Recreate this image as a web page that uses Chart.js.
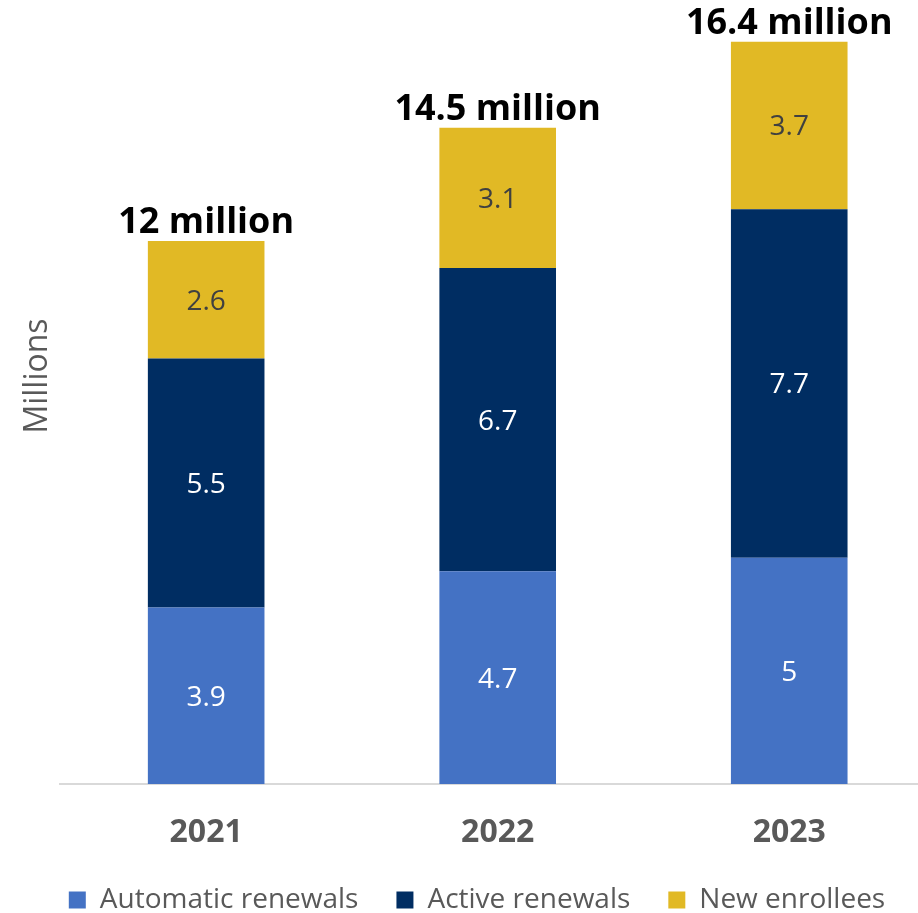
<!DOCTYPE html>
<html>
<head>
<meta charset="utf-8">
<script src="https://cdn.jsdelivr.net/npm/chart.js@4.4.0/dist/chart.umd.min.js"></script>
<style>
  html, body { margin: 0; padding: 0; background: #fff; overflow: hidden; }
  #wrap { width: 950px; height: 945px; margin-top: -32px; }
</style>
</head>
<body>
<div id="wrap"><canvas id="chart"></canvas></div>
<script>
// Данные
const years = ['2021', '2022', '2023'];
const automaticRenewals = [3.9, 4.7, 5];
const activeRenewals = [5.5, 6.7, 7.7];
const newEnrollees = [2.6, 3.1, 3.7];
const seriesNames = ['Automatic renewals', 'Active renewals', 'New enrollees'];

const FONT = "'Open Sans', 'Noto Sans', sans-serif";
const colors = ['#4472C4', '#002D62', '#E1B925'];
const labelColors = ['#ffffff', '#ffffff', '#404040'];

// Подписи значений и итогов
const labelsPlugin = {
  id: 'barLabels',
  afterDatasetsDraw(chart) {
    const ctx = chart.ctx;
    ctx.save();
    ctx.textAlign = 'center';
    ctx.textBaseline = 'middle';
    ctx.font = '28px ' + FONT;
    chart.data.datasets.forEach((ds, di) => {
      const meta = chart.getDatasetMeta(di);
      meta.data.forEach((bar, i) => {
        ctx.fillStyle = labelColors[di];
        ctx.fillText(String(ds.data[i]), bar.x, (bar.y + bar.base) / 2 + 2);
      });
    });
    // итоги над столбцами
    const last = chart.getDatasetMeta(chart.data.datasets.length - 1);
    ctx.font = 'bold 36px ' + FONT;
    ctx.fillStyle = '#000000';
    ctx.textBaseline = 'bottom';
    last.data.forEach((bar, i) => {
      let total = 0;
      chart.data.datasets.forEach(ds => total += ds.data[i]);
      total = Math.round(total * 10) / 10;
      ctx.fillText(total + ' million', bar.x, bar.y);
    });
    ctx.restore();
  }
};

let context = document.getElementById('chart').getContext('2d');
let chart = new Chart(context, {
  type: 'bar',
  data: {
    labels: years,
    datasets: [
      { label: seriesNames[0], data: automaticRenewals, backgroundColor: colors[0] },
      { label: seriesNames[1], data: activeRenewals, backgroundColor: colors[1] },
      { label: seriesNames[2], data: newEnrollees, backgroundColor: colors[2] }
    ]
  },
  options: {
    responsive: true,
    maintainAspectRatio: false,
    animation: false,
    barPercentage: 0.4,
    categoryPercentage: 1,
    layout: { padding: { left: 19, right: 15, top: 0, bottom: 0 } },
    scales: {
      x: {
        stacked: true,
        grid: { display: false, drawTicks: false },
        border: { display: true, color: '#D9D9D9', width: 2 },
        ticks: {
          color: '#595959',
          padding: 30,
          font: { family: FONT, size: 32, weight: 'bold' }
        },
        afterFit: (axis) => { axis.height = 64; }
      },
      y: {
        stacked: true,
        min: 0,
        max: 18.03,
        grid: { display: false, drawTicks: false },
        border: { display: false },
        ticks: { display: false },
        title: {
          display: true,
          text: 'Millions',
          color: '#595959',
          padding: { top: 0, bottom: 3 },
          font: { family: FONT, size: 32 }
        }
      }
    },
    plugins: {
      legend: {
        position: 'bottom',
        maxHeight: 65,
        labels: {
          boxWidth: 17,
          boxHeight: 17,
          padding: 38,
          color: '#595959',
          font: { family: FONT, size: 28 }
        }
      },
      tooltip: { enabled: false }
    }
  },
  plugins: [labelsPlugin]
});
</script>
</body>
</html>
